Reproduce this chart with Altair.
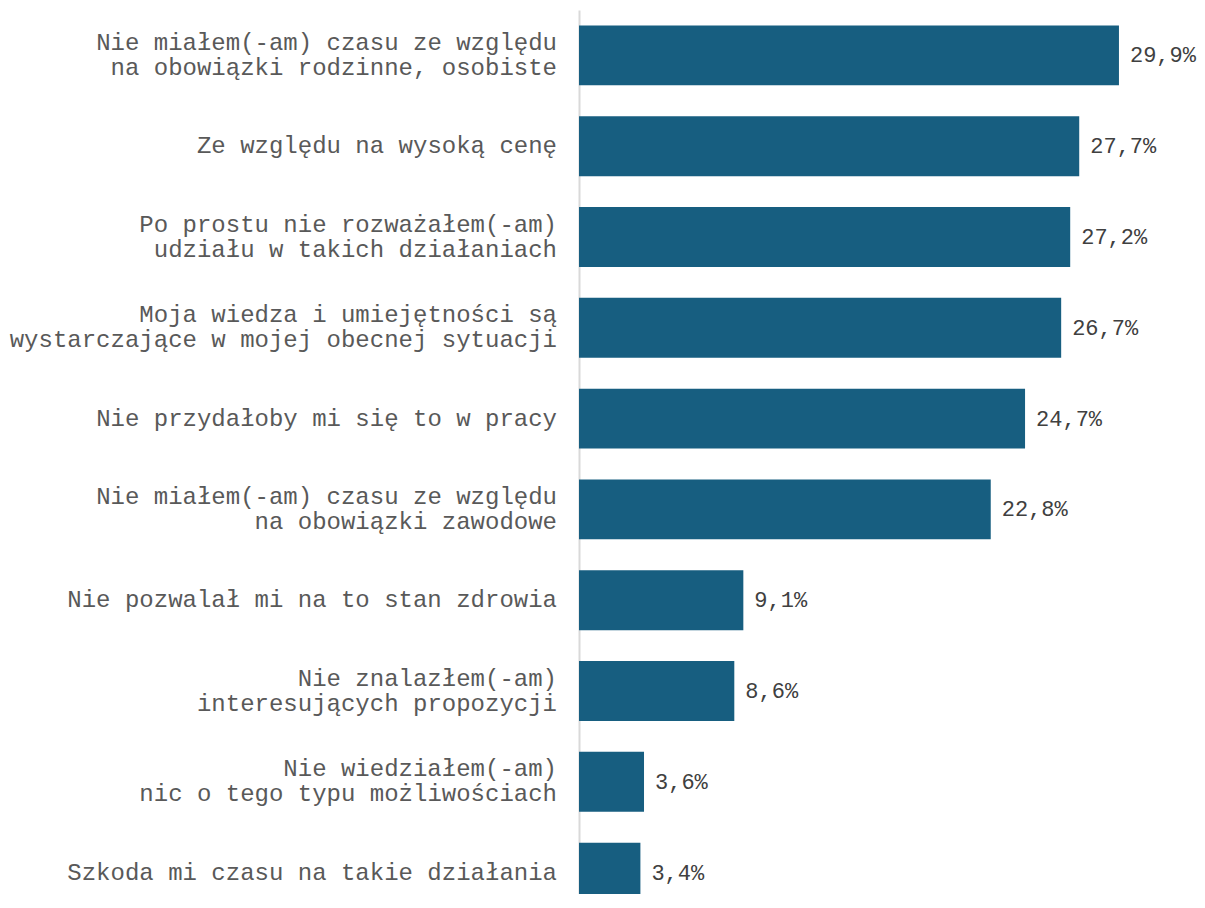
import altair as alt
import pandas as pd

categories = [
    "Nie miałem(-am) czasu ze względu|na obowiązki rodzinne, osobiste",
    "Ze względu na wysoką cenę",
    "Po prostu nie rozważałem(-am)|udziału w takich działaniach",
    "Moja wiedza i umiejętności są|wystarczające w mojej obecnej sytuacji",
    "Nie przydałoby mi się to w pracy",
    "Nie miałem(-am) czasu ze względu|na obowiązki zawodowe",
    "Nie pozwalał mi na to stan zdrowia",
    "Nie znalazłem(-am)|interesujących propozycji",
    "Nie wiedziałem(-am)|nic o tego typu możliwościach",
    "Szkoda mi czasu na takie działania",
]
values = [29.9, 27.7, 27.2, 26.7, 24.7, 22.8, 9.1, 8.6, 3.6, 3.4]
labels = [f"{v:.1f}".replace(".", ",") + "%" for v in values]

parts = [c.split("|") for c in categories]
df = pd.DataFrame({
    "cat": categories,
    "val": values,
    "lab": labels,
    "l1": [p[0] for p in parts],
    "l2": [p[1] if len(p) > 1 else "" for p in parts],
    "n": [len(p) for p in parts],
})

FONT = "Courier New, Liberation Mono, monospace"
LABEL_COLOR = "#595959"

y = alt.Y(
    "cat:N",
    sort=categories,
    title=None,
    scale=alt.Scale(paddingInner=0.34, paddingOuter=0.17, range=[0, 908]),
    axis=alt.Axis(
        labels=False,
        ticks=False,
        domain=True,
        domainColor="#d9d9d9",
        domainWidth=2,
        grid=False,
    ),
)
x = alt.X(
    "val:Q",
    title=None,
    scale=alt.Scale(domain=[0, 34], nice=False),
    axis=None,
)

base = alt.Chart(df)
bars = base.mark_bar(color="#175E80").encode(x=x, y=y)
text = base.mark_text(
    align="left", baseline="middle", dx=11, font=FONT, fontSize=22, color="#404040"
).encode(x=x, y=y, text="lab:N")


def label_layer(field, dy, cond):
    return (
        base.transform_filter(cond)
        .mark_text(align="right", baseline="middle", dy=dy, font=FONT, fontSize=24, color=LABEL_COLOR)
        .encode(x=alt.value(-22), y=y, text=f"{field}:N")
    )


lab_single = label_layer("l1", 0, "datum.n == 1")
lab_top = label_layer("l1", -12.5, "datum.n == 2")
lab_bot = label_layer("l2", 12.5, "datum.n == 2")

chart = (
    alt.layer(bars, text, lab_single, lab_top, lab_bot)
    .properties(
        width=614,
        height=884,
        autosize=alt.AutoSizeParams(type="none"),
        padding={"left": 571, "top": 2, "right": 4, "bottom": 0},
    )
    .configure_view(stroke=None)
)

chart.save("out.html", embed_options={"renderer": "svg", "actions": False})
